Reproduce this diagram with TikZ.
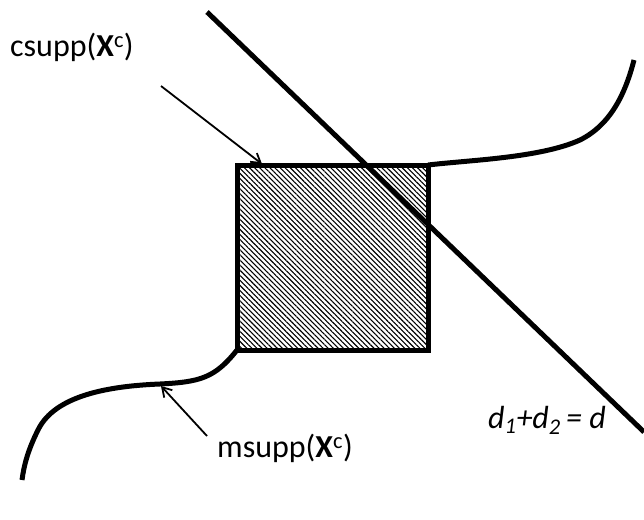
\documentclass[tikz,border=0pt]{standalone}
\usepackage{fontspec}
\setmainfont{Carlito}
\usetikzlibrary{patterns.meta,arrows.meta}
\begin{document}
\begin{tikzpicture}[x=1pt,y=-1pt,
  thickline/.style={line width=5pt},
  pointer/.style={line width=1.8pt,-{Straight Barb[length=9pt,width=11pt]}},
  hatch/.style={pattern={Lines[angle=-45,distance=3.6pt,line width=1.1pt]}},
  lbl/.style={font=\fontsize{32}{38}\selectfont,inner sep=0pt}]
\useasboundingbox (0,0) rectangle (644,519);
\coordinate (sqTL) at (237,165);
\coordinate (sqTR) at (428,165);
\coordinate (sqBR) at (428,350);
\coordinate (sqBL) at (237,350);
\fill[hatch] (sqTL) rectangle (sqBR);
% curves
\draw[thickline] (sqTR) .. controls (470,160) and (540,158) .. (580,140)
  .. controls (610,125) and (625,95) .. (634,60);
\draw[thickline] (sqBL) .. controls (215,378) and (200,382) .. (160,384)
  .. controls (110,386) and (55,395) .. (38,430)
  .. controls (28,450) and (24,465) .. (22,480);
\draw[thickline] (sqTL) rectangle (sqBR);
% diagonal line
\coordinate (lnA) at (207,12);
\coordinate (lnB) at (644,432);
\draw[thickline] (lnA) -- (lnB);
% labels
\node[lbl,anchor=west] (cs) at (10,47) {csupp(\textbf{X}\textsuperscript{c})};
\node[lbl,anchor=west] (ms) at (217,448) {msupp(\textbf{X}\textsuperscript{c})};
\node[lbl,anchor=west] (dd) at (488,420) {\itshape d\textsubscript{1}+d\textsubscript{2}\,= d};
\coordinate (csS) at (161,86);
\coordinate (csE) at (262,164);
\coordinate (msS) at (207,436);
\coordinate (msE) at (161,386);
\draw[pointer] (csS) -- (csE);
\draw[pointer] (msS) -- (msE);
\end{tikzpicture}
\end{document}
